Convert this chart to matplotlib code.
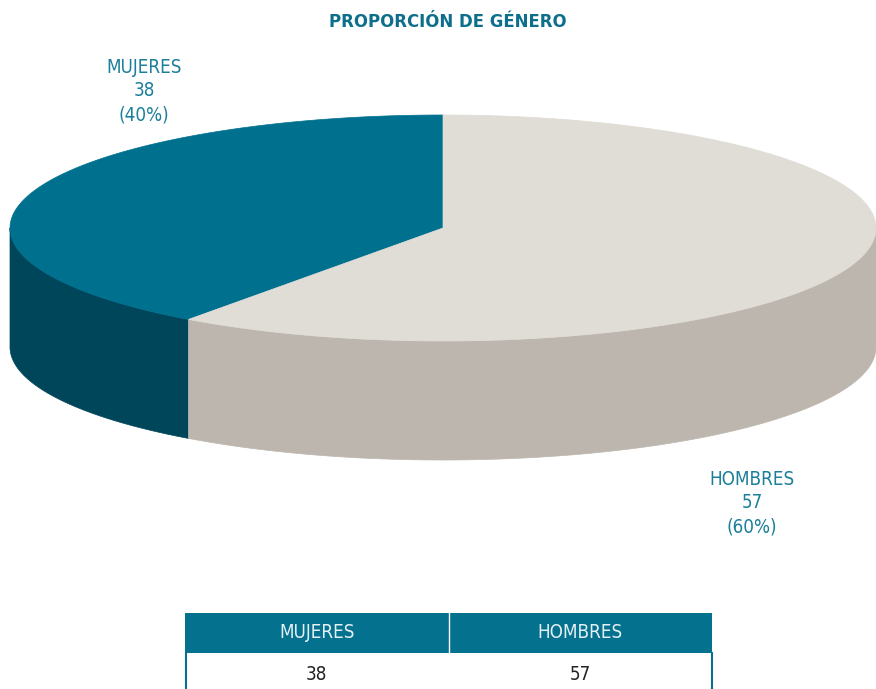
import numpy as np
import matplotlib.pyplot as plt
from matplotlib.patches import Polygon, Rectangle

# data
categories = ["MUJERES", "HOMBRES"]
values = [38, 57]
top_colors = ["#00708f", "#e0dcd6"]
side_colors = ["#00465a", "#bdb6ae"]

W, H = 876, 689
fig = plt.figure(figsize=(W / 100, H / 100), dpi=100)
ax = fig.add_axes([0, 0, 1, 1])
ax.set_xlim(0, W)
ax.set_ylim(H, 0)
ax.axis("off")

FONT = ["DejaVu Sans"]
TEAL_TXT = "#1c7f9a"
txt_kw = dict(family=FONT, fontstretch="condensed")

# pie geometry (image pixels, y down)
cx, cy, a, b, depth = 443, 228, 433, 113, 119


def pt(theta):
    return cx + a * np.cos(theta), cy - b * np.sin(theta)


total = sum(values)
fracs = [v / total for v in values]
starts = []
ang = 90.0
for f in fracs:
    starts.append((ang, ang + 360 * f))
    ang += 360 * f

# sides first (front half only: angles 180..360)
for (s, e), col in zip(starts, side_colors):
    lo, hi = max(s, 180), min(e, 360)
    if hi <= lo:
        continue
    th = np.radians(np.linspace(lo, hi, 200))
    xs, ys = pt(th)
    poly = np.column_stack([np.r_[xs, xs[::-1]], np.r_[ys, ys[::-1] + depth]])
    ax.add_patch(Polygon(poly, closed=True, facecolor=col, edgecolor=col, lw=0.5))

# top faces
for (s, e), col in zip(starts, top_colors):
    th = np.radians(np.linspace(s, e, 300))
    xs, ys = pt(th)
    poly = np.column_stack([np.r_[cx, xs], np.r_[cy, ys]])
    ax.add_patch(Polygon(poly, closed=True, facecolor=col, edgecolor=col, lw=0.5))

# title
ax.text(448, 22, "PROPORCIÓN DE GÉNERO", ha="center", va="center",
        fontsize=13.2, fontweight="bold", color="#0e6f8c", **txt_kw)

# labels
label_pos = [(144, 91), (752, 503)]
for (lx, ly), cat, v, f in zip(label_pos, categories, values, fracs):
    ax.text(lx, ly, f"{cat}\n{v}\n({f * 100:.0f}%)", ha="center", va="center",
            fontsize=13.5, color=TEAL_TXT, linespacing=1.32, **txt_kw)

# table
tx0, tx1, hy0, hy1, by1 = 185, 712, 613, 653, 700
colw = (tx1 - tx0) / len(categories)
ax.add_patch(Rectangle((tx0, hy0), tx1 - tx0, hy1 - hy0, facecolor="#04718f", edgecolor="none"))
ax.plot([tx0 + 0.5, tx0 + 0.5], [hy1, by1], color="#04718f", lw=1.5)
ax.plot([tx1 - 0.5, tx1 - 0.5], [hy1, by1], color="#04718f", lw=1.5)
for i, (cat, v) in enumerate(zip(categories, values)):
    xc = tx0 + colw * (i + 0.5)
    ax.text(xc, (hy0 + hy1) / 2, cat, ha="center", va="center",
            fontsize=13.5, color="#e4f0f3", **txt_kw)
    ax.text(xc, 675, str(v), ha="center", va="center",
            fontsize=13.5, color="#222222", **txt_kw)
    if i > 0:
        ax.plot([tx0 + colw * i] * 2, [hy0, hy1], color="white", lw=1)

fig.savefig("out.png", dpi=100)
